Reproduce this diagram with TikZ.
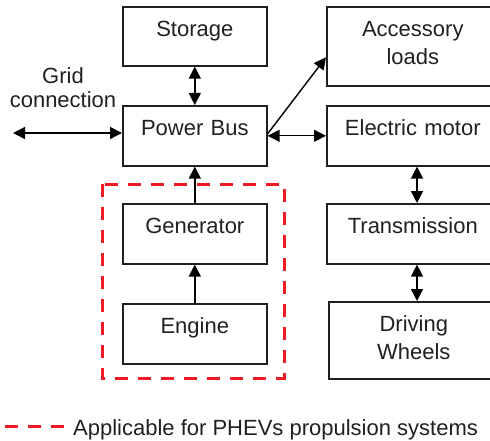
\documentclass[tikz,border=0pt]{standalone}
\usepackage{fontspec}
\setmainfont{Liberation Sans}
\usetikzlibrary{arrows.meta,positioning}
\definecolor{phevred}{RGB}{237,28,36}
\definecolor{ink}{RGB}{35,31,32}

\begin{document}
\begin{tikzpicture}[x=1pt, y=-1pt, >={Triangle[length=12pt,width=12pt]},
    font=\fontsize{22}{28}\selectfont, text=ink,
    blk/.style={draw=ink, line width=1.6pt, anchor=north west, inner sep=0pt,
      align=center, text height=29.5pt},
    conn/.style={draw=black, line width=1.4pt},
    phev/.style={draw=phevred, line width=3pt, dash pattern=on 13pt off 10pt}]
    \clip (0,0) rectangle (490,441);
    % left column
    \node[blk, text width=144pt, text depth=29.5pt] (storage) at (122,6) {Storage};
    \node[blk, text width=144pt, text depth=30.5pt] (bus) at (122,105) {Power Bus};
    \node[blk, text width=144pt, text depth=30.5pt] (gen) at (122,203) {Generator};
    \node[blk, text width=144pt, text depth=30.5pt] (eng) at (122,303) {Engine};
    % right column
    \node[blk, text width=172pt, text depth=49.5pt] (acc) at (326,6) {Accessory\\loads};
    \node[blk, text width=172pt, text depth=30.5pt] (motor) at (326,105) {Electric motor};
    \node[blk, text width=172pt, text depth=30.5pt] (trans) at (326,203) {Transmission};
    \node[blk, text width=170pt, text depth=47.5pt] (wheels) at (328,301) {Driving\\Wheels};
    \node[align=center, anchor=base, inner sep=0pt, font=\fontsize{22}{24}\selectfont]
      (gridlbl) at (63,108) {Grid\\connection};
    \coordinate (grid) at (13,133);
    \coordinate (ax) at (417,0);
    % connectors
    \draw[conn, <->] (storage.south) -- (bus.north);
    \draw[conn, <->] (grid) -- (grid -| bus.west);
    \draw[conn, ->] ([yshift=2pt]bus.east) -- ([yshift=-11pt]acc.west);
    \draw[conn, <->] (bus.east) -- (motor.west);
    \draw[conn, ->] (gen.north) -- (bus.south);
    \draw[conn, ->] (eng.north) -- (gen.south);
    \draw[conn, <->] (motor.south -| ax) -- (trans.north -| ax);
    \draw[conn, <->] (trans.south -| ax) -- (wheels.north -| ax);
    % PHEV frame and legend
    \draw[phev] (102,184) rectangle (284,378);
    \node[anchor=base west, inner xsep=9pt, inner ysep=0pt] (legend) at (64,435)
      {Applicable for PHEVs propulsion systems};
    \coordinate (lg) at (5,426);
    \draw[phev] (lg) -- (lg -| legend.west);
\end{tikzpicture}
\end{document}
